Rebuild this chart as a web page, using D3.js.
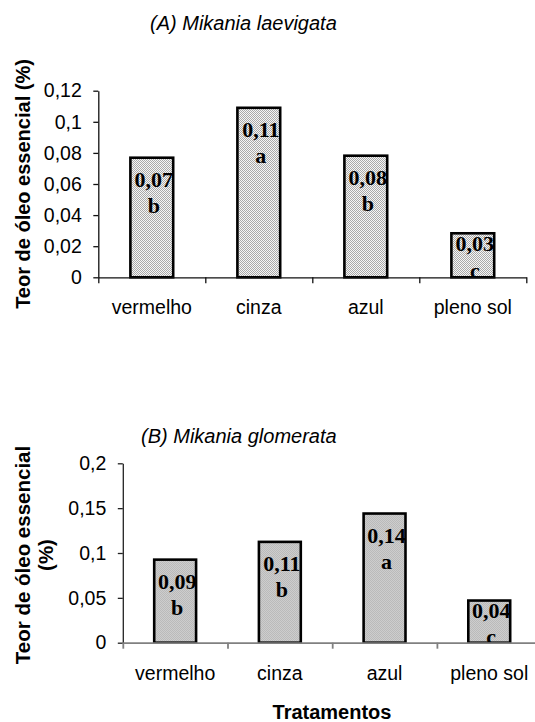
<!DOCTYPE html>
<html>
<head>
<meta charset="utf-8">
<script src="https://cdn.jsdelivr.net/npm/d3@7"></script>
<style>
  html, body { margin: 0; padding: 0; background: #fff; }
  svg { display: block; }
  text { font-family: 'Liberation Sans', Arial, sans-serif; fill: #000; }
</style>
</head>
<body>
<svg id="chart" width="535" height="722"></svg>
<script>
// treatments (shade colour) shared by both panels
const categories = ['vermelho', 'cinza', 'azul', 'pleno sol'];

// (A) Mikania laevigata
const valuesA = [0.0769, 0.109, 0.0782, 0.0283];
const labelsA = ['0,07', '0,11', '0,08', '0,03'];
const lettersA = ['b', 'a', 'b', 'c'];
const ticksA = [0, 0.02, 0.04, 0.06, 0.08, 0.1, 0.12];

// (B) Mikania glomerata
const valuesB = [0.0926, 0.1124, 0.144, 0.047];
const labelsB = ['0,09', '0,11', '0,14', '0,04'];
const lettersB = ['b', 'b', 'a', 'c'];
const ticksB = [0, 0.05, 0.1, 0.15, 0.2];

const ptLocale = d3.formatLocale({decimal: ',', thousands: '.', grouping: [3], currency: ['R$', '']});
const fmt = ptLocale.format('~g');

const svg = d3.select('#chart');
const defs = svg.append('defs');

// dithered fills, like the old excel print
function makeDither(id, c1, c2) {
  let p = defs.append('pattern')
              .attr('id', id)
              .attr('width', 2)
              .attr('height', 2)
              .attr('patternUnits', 'userSpaceOnUse');
  p.append('rect').attr('width', 2).attr('height', 2).style('fill', c2);
  p.append('rect').attr('width', 1).attr('height', 1).style('fill', c1);
  p.append('rect').attr('x', 1).attr('y', 1).attr('width', 1).attr('height', 1).style('fill', c1);
}
makeDither('ditherA', '#a9a9a9', '#f6f6f6');
makeDither('ditherB', '#bababa', '#cdcdcd');

function drawPanel(cfg) {
  let g = svg.append('g').attr('class', 'panel-' + cfg.id);

  let x = d3.scaleBand()
            .domain(categories)
            .range(cfg.xRange)
            .paddingInner(0.6)
            .paddingOuter(0.3);
  let xEdge = d3.scaleLinear().domain([0, categories.length]).range(cfg.xRange);
  let y = d3.scaleLinear().domain(cfg.yDomain).range(cfg.yRange);
  let y0 = y(0);

  // bars
  g.selectAll('.bar')
   .data(cfg.values)
   .enter()
   .append('rect')
   .attr('class', 'bar')
   .attr('x', (d, i) => x(categories[i]))
   .attr('y', d => y(d))
   .attr('width', x.bandwidth())
   .attr('height', d => y0 - y(d))
   .style('fill', `url(#${cfg.fill})`)
   .style('stroke', '#000')
   .style('stroke-width', '2.6px');

  // data labels are clipped to the bar width
  cfg.values.forEach((d, i) => {
    defs.append('clipPath')
        .attr('id', `clip-${cfg.id}-${i}`)
        .append('rect')
        .attr('x', x(categories[i]))
        .attr('y', 0)
        .attr('width', x.bandwidth())
        .attr('height', 722);
  });

  let lineGap = 26.5;
  let labG = g.selectAll('.barLabel')
              .data(cfg.values)
              .enter()
              .append('g')
              .attr('class', 'barLabel')
              .attr('clip-path', (d, i) => `url(#clip-${cfg.id}-${i})`);

  // short bars get the label centred, the others sit under the top
  let firstBase = d => {
    let top = y(d);
    if (y0 - top < 60) return (top + y0) / 2 - 4;
    return top + 29;
  };

  labG.append('text')
      .attr('x', (d, i) => x(categories[i]) + x.bandwidth() / 2 + 2)
      .attr('y', d => firstBase(d))
      .text((d, i) => cfg.labels[i]);

  labG.append('text')
      .attr('x', (d, i) => x(categories[i]) + x.bandwidth() / 2 + 2)
      .attr('y', d => firstBase(d) + lineGap)
      .text((d, i) => cfg.letters[i]);

  labG.selectAll('text')
      .style('font-family', "'Liberation Serif', 'Times New Roman', serif")
      .style('font-weight', 'bold')
      .style('font-size', '22px')
      .style('text-anchor', 'middle');

  // y axis
  let yAxis = g.append('g')
               .attr('transform', `translate(${cfg.xRange[0]}, 0)`)
               .call(d3.axisLeft(y).tickValues(cfg.ticks).tickFormat(fmt)
                        .tickSize(5).tickSizeOuter(0).tickPadding(11.5));
  yAxis.selectAll('text')
       .style('font-size', '19.5px')
       .style('font-family', "'Liberation Sans', Arial, sans-serif");
  yAxis.selectAll('line, path').style('stroke', cfg.yAxisCol).style('stroke-width', '1.3px');

  // x axis: ticks on the category boundaries
  let xAxis = g.append('g')
               .attr('transform', `translate(0, ${y0})`)
               .call(d3.axisBottom(xEdge).tickValues(d3.range(categories.length + 1))
                        .tickFormat('').tickSize(6).tickSizeOuter(0));
  xAxis.selectAll('line, path').style('stroke', cfg.xAxisCol).style('stroke-width', cfg.xAxisW);

  g.append('g')
   .attr('transform', `translate(0, ${y0})`)
   .call(d3.axisBottom(x).tickSize(0).tickPadding(23))
   .call(a => a.select('.domain').remove())
   .selectAll('text')
   .style('font-size', '19.5px')
   .style('font-family', "'Liberation Sans', Arial, sans-serif");

  // panel title
  g.append('text')
   .attr('x', cfg.titlePos[0])
   .attr('y', cfg.titlePos[1])
   .text(cfg.title)
   .style('font-style', 'italic')
   .style('font-size', '20px');

  // y axis title, one or more lines
  let yt = g.append('text')
            .attr('transform', `translate(${cfg.yTitlePos[0]}, ${cfg.yTitlePos[1]}) rotate(-90)`)
            .style('font-weight', 'bold')
            .style('font-size', cfg.yTitleSize)
            .style('text-anchor', 'middle');
  cfg.yTitle.forEach((t, i) => {
    yt.append('tspan').attr('x', 0).attr('dy', i == 0 ? 0 : 23).text(t);
  });

  return g;
}

drawPanel({
  id: 'A',
  values: valuesA, labels: labelsA, letters: lettersA, ticks: ticksA,
  xRange: [98.3, 526.3], yDomain: [0, 0.12], yRange: [277.3, 90.7],
  fill: 'ditherA', xAxisCol: '#111', yAxisCol: '#111', xAxisW: '1.3px',
  title: '(A) Mikania laevigata', titlePos: [150, 30],
  yTitle: ['Teor de óleo essencial (%)'], yTitlePos: [30, 184], yTitleSize: '20px'
});

drawPanel({
  id: 'B',
  values: valuesB, labels: labelsB, letters: lettersB, ticks: ticksB,
  xRange: [122.8, 541.6], yDomain: [0, 0.2], yRange: [642.7, 463.3],
  fill: 'ditherB', xAxisCol: '#808080', yAxisCol: '#222', xAxisW: '1.8px',
  title: '(B) Mikania glomerata', titlePos: [141, 443],
  yTitle: ['Teor de óleo essencial', '(%)'], yTitlePos: [30, 555], yTitleSize: '20.5px'
});

svg.append('text')
   .attr('x', 332)
   .attr('y', 719)
   .text('Tratamentos')
   .style('font-weight', 'bold')
   .style('font-size', '20px')
   .style('text-anchor', 'middle');
</script>
</body>
</html>
